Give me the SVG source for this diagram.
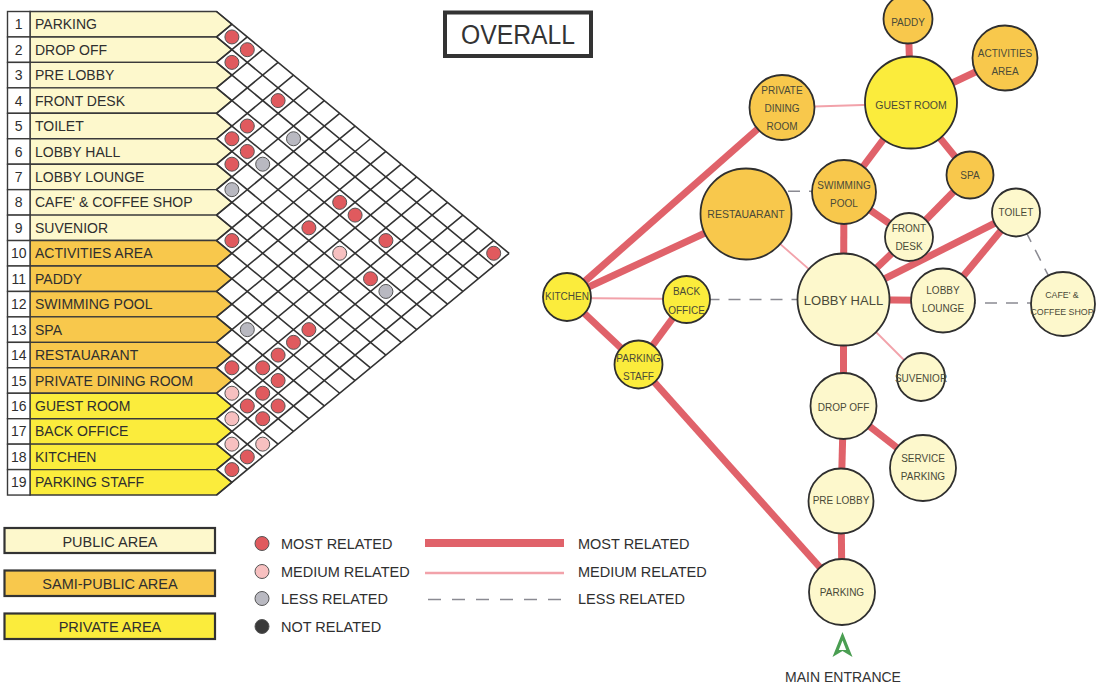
<svg xmlns="http://www.w3.org/2000/svg" width="1097" height="685" viewBox="0 0 1097 685">
<style>
.pub{fill:#fdf8cc}.semi{fill:#f8c84c}.priv{fill:#fbec3c}
.band{stroke:#3a3a3a;stroke-width:1.4}
.num{fill:#fff;stroke:#3a3a3a;stroke-width:1.4}
.lbl{font-family:"Liberation Sans",Arial,sans-serif;font-size:14px;fill:#2f2f2f}
.nn{font-family:"Liberation Sans",Arial,sans-serif;font-size:14px;fill:#2f2f2f;text-anchor:middle}
.grid{fill:none;stroke:#333;stroke-width:1.6}
.dot{stroke:#555;stroke-width:1}
.r{fill:#e05a5e}.p{fill:#f7c0c0}.g{fill:#b9b9c1}.k{fill:#3a3a3a}
.most{stroke:#e0626a;stroke-width:7;fill:none}
.med{stroke:#f2a2aa;stroke-width:1.8;fill:none}
.less{stroke:#8a8a92;stroke-width:1.5;stroke-dasharray:12 9;fill:none}
.node circle{stroke:#2f2f2f;stroke-width:1.8}
.nt{font-family:"Liberation Sans",Arial,sans-serif;font-size:10px;fill:#4a4a38;text-anchor:middle}
.leg{font-family:"Liberation Sans",Arial,sans-serif;font-size:14.5px;fill:#2f2f2f}
.legbox{stroke:#333;stroke-width:2.2}
</style>
<rect width="1097" height="685" fill="#fff"/>

<!-- Title -->
<g id="title">
<rect x="445" y="12.5" width="146" height="43.5" fill="#fff" stroke="#333" stroke-width="4"/>
<text x="518" y="43.5" text-anchor="middle" font-family="Liberation Sans, Arial, sans-serif" font-size="27" fill="#333" textLength="114" lengthAdjust="spacingAndGlyphs">OVERALL</text>
</g>

<!-- Matrix rows -->
<g id="matrix-rows">
<g id="row-1"><polygon class="band pub" points="30,11.5 216.5,11.5 231.9,24.2 216.5,36.95 30,36.95"/><rect class="num" x="7.5" y="11.5" width="22.5" height="25.45"/><text class="nn" x="18.75" y="29.2">1</text><text class="lbl" x="35" y="29.2">PARKING</text></g>
<g id="row-2"><polygon class="band pub" points="30,36.95 216.5,36.95 231.9,49.7 216.5,62.4 30,62.4"/><rect class="num" x="7.5" y="36.95" width="22.5" height="25.45"/><text class="nn" x="18.75" y="54.7">2</text><text class="lbl" x="35" y="54.7">DROP OFF</text></g>
<g id="row-3"><polygon class="band pub" points="30,62.4 216.5,62.4 231.9,75.1 216.5,87.85 30,87.85"/><rect class="num" x="7.5" y="62.4" width="22.5" height="25.45"/><text class="nn" x="18.75" y="80.1">3</text><text class="lbl" x="35" y="80.1">PRE LOBBY</text></g>
<g id="row-4"><polygon class="band pub" points="30,87.85 216.5,87.85 231.9,100.6 216.5,113.3 30,113.3"/><rect class="num" x="7.5" y="87.85" width="22.5" height="25.45"/><text class="nn" x="18.75" y="105.6">4</text><text class="lbl" x="35" y="105.6">FRONT DESK</text></g>
<g id="row-5"><polygon class="band pub" points="30,113.3 216.5,113.3 231.9,126 216.5,138.75 30,138.75"/><rect class="num" x="7.5" y="113.3" width="22.5" height="25.45"/><text class="nn" x="18.75" y="131">5</text><text class="lbl" x="35" y="131">TOILET</text></g>
<g id="row-6"><polygon class="band pub" points="30,138.75 216.5,138.75 231.9,151.5 216.5,164.2 30,164.2"/><rect class="num" x="7.5" y="138.75" width="22.5" height="25.45"/><text class="nn" x="18.75" y="156.5">6</text><text class="lbl" x="35" y="156.5">LOBBY HALL</text></g>
<g id="row-7"><polygon class="band pub" points="30,164.2 216.5,164.2 231.9,176.9 216.5,189.65 30,189.65"/><rect class="num" x="7.5" y="164.2" width="22.5" height="25.45"/><text class="nn" x="18.75" y="181.9">7</text><text class="lbl" x="35" y="181.9">LOBBY LOUNGE</text></g>
<g id="row-8"><polygon class="band pub" points="30,189.65 216.5,189.65 231.9,202.4 216.5,215.1 30,215.1"/><rect class="num" x="7.5" y="189.65" width="22.5" height="25.45"/><text class="nn" x="18.75" y="207.4">8</text><text class="lbl" x="35" y="207.4">CAFE' &amp; COFFEE SHOP</text></g>
<g id="row-9"><polygon class="band pub" points="30,215.1 216.5,215.1 231.9,227.8 216.5,240.55 30,240.55"/><rect class="num" x="7.5" y="215.1" width="22.5" height="25.45"/><text class="nn" x="18.75" y="232.8">9</text><text class="lbl" x="35" y="232.8">SUVENIOR</text></g>
<g id="row-10"><polygon class="band semi" points="30,240.55 216.5,240.55 231.9,253.3 216.5,266 30,266"/><rect class="num" x="7.5" y="240.55" width="22.5" height="25.45"/><text class="nn" x="18.75" y="258.3">10</text><text class="lbl" x="35" y="258.3">ACTIVITIES AREA</text></g>
<g id="row-11"><polygon class="band semi" points="30,266 216.5,266 231.9,278.7 216.5,291.45 30,291.45"/><rect class="num" x="7.5" y="266" width="22.5" height="25.45"/><text class="nn" x="18.75" y="283.7">11</text><text class="lbl" x="35" y="283.7">PADDY</text></g>
<g id="row-12"><polygon class="band semi" points="30,291.45 216.5,291.45 231.9,304.2 216.5,316.9 30,316.9"/><rect class="num" x="7.5" y="291.45" width="22.5" height="25.45"/><text class="nn" x="18.75" y="309.2">12</text><text class="lbl" x="35" y="309.2">SWIMMING POOL</text></g>
<g id="row-13"><polygon class="band semi" points="30,316.9 216.5,316.9 231.9,329.6 216.5,342.35 30,342.35"/><rect class="num" x="7.5" y="316.9" width="22.5" height="25.45"/><text class="nn" x="18.75" y="334.6">13</text><text class="lbl" x="35" y="334.6">SPA</text></g>
<g id="row-14"><polygon class="band semi" points="30,342.35 216.5,342.35 231.9,355.1 216.5,367.8 30,367.8"/><rect class="num" x="7.5" y="342.35" width="22.5" height="25.45"/><text class="nn" x="18.75" y="360.1">14</text><text class="lbl" x="35" y="360.1">RESTAUARANT</text></g>
<g id="row-15"><polygon class="band semi" points="30,367.8 216.5,367.8 231.9,380.5 216.5,393.25 30,393.25"/><rect class="num" x="7.5" y="367.8" width="22.5" height="25.45"/><text class="nn" x="18.75" y="385.5">15</text><text class="lbl" x="35" y="385.5">PRIVATE DINING ROOM</text></g>
<g id="row-16"><polygon class="band priv" points="30,393.25 216.5,393.25 231.9,406 216.5,418.7 30,418.7"/><rect class="num" x="7.5" y="393.25" width="22.5" height="25.45"/><text class="nn" x="18.75" y="411">16</text><text class="lbl" x="35" y="411">GUEST ROOM</text></g>
<g id="row-17"><polygon class="band priv" points="30,418.7 216.5,418.7 231.9,431.4 216.5,444.15 30,444.15"/><rect class="num" x="7.5" y="418.7" width="22.5" height="25.45"/><text class="nn" x="18.75" y="436.4">17</text><text class="lbl" x="35" y="436.4">BACK OFFICE</text></g>
<g id="row-18"><polygon class="band priv" points="30,444.15 216.5,444.15 231.9,456.9 216.5,469.6 30,469.6"/><rect class="num" x="7.5" y="444.15" width="22.5" height="25.45"/><text class="nn" x="18.75" y="461.9">18</text><text class="lbl" x="35" y="461.9">KITCHEN</text></g>
<g id="row-19"><polygon class="band priv" points="30,469.6 216.5,469.6 231.9,482.3 216.5,495.05 30,495.05"/><rect class="num" x="7.5" y="469.6" width="22.5" height="25.45"/><text class="nn" x="18.75" y="487.3">19</text><text class="lbl" x="35" y="487.3">PARKING STAFF</text></g>
</g>

<!-- Matrix grid -->
<g id="matrix-grid" transform="translate(216.5,11.5) scale(15.4,12.725)">
<path class="grid" vector-effect="non-scaling-stroke" d="M0,0L19,19M0,2L18,20M0,4L17,21M0,6L16,22M0,8L15,23M0,10L14,24M0,12L13,25M0,14L12,26M0,16L11,27M0,18L10,28M0,20L9,29M0,22L8,30M0,24L7,31M0,26L6,32M0,28L5,33M0,30L4,34M0,32L3,35M0,34L2,36M0,36L1,37"/>
<path class="grid" vector-effect="non-scaling-stroke" d="M0,2L1,1M0,4L2,2M0,6L3,3M0,8L4,4M0,10L5,5M0,12L6,6M0,14L7,7M0,16L8,8M0,18L9,9M0,20L10,10M0,22L11,11M0,24L12,12M0,26L13,13M0,28L14,14M0,30L15,15M0,32L16,16M0,34L17,17M0,36L18,18M0,38L19,19"/>
</g>

<!-- Matrix dots -->
<g id="matrix-dots">
<circle class="dot r" cx="231.9" cy="36.95" r="7"/>
<circle class="dot r" cx="247.3" cy="49.68" r="7"/>
<circle class="dot r" cx="231.9" cy="62.4" r="7"/>
<circle class="dot r" cx="278.1" cy="100.58" r="7"/>
<circle class="dot r" cx="247.3" cy="126.03" r="7"/>
<circle class="dot r" cx="231.9" cy="138.75" r="7"/>
<circle class="dot g" cx="293.5" cy="138.75" r="7"/>
<circle class="dot r" cx="247.3" cy="151.48" r="7"/>
<circle class="dot r" cx="231.9" cy="164.2" r="7"/>
<circle class="dot g" cx="262.7" cy="164.2" r="7"/>
<circle class="dot g" cx="231.9" cy="189.65" r="7"/>
<circle class="dot r" cx="339.7" cy="202.38" r="7"/>
<circle class="dot r" cx="355.1" cy="215.1" r="7"/>
<circle class="dot r" cx="308.9" cy="227.83" r="7"/>
<circle class="dot r" cx="231.9" cy="240.55" r="7"/>
<circle class="dot r" cx="385.9" cy="240.55" r="7"/>
<circle class="dot p" cx="339.7" cy="253.28" r="7"/>
<circle class="dot r" cx="493.7" cy="253.28" r="7"/>
<circle class="dot r" cx="370.5" cy="278.73" r="7"/>
<circle class="dot g" cx="385.9" cy="291.45" r="7"/>
<circle class="dot g" cx="247.3" cy="329.63" r="7"/>
<circle class="dot r" cx="308.9" cy="329.63" r="7"/>
<circle class="dot r" cx="293.5" cy="342.35" r="7"/>
<circle class="dot r" cx="278.1" cy="355.08" r="7"/>
<circle class="dot r" cx="231.9" cy="367.8" r="7"/>
<circle class="dot r" cx="262.7" cy="367.8" r="7"/>
<circle class="dot r" cx="278.1" cy="380.53" r="7"/>
<circle class="dot p" cx="231.9" cy="393.25" r="7"/>
<circle class="dot r" cx="262.7" cy="393.25" r="7"/>
<circle class="dot r" cx="247.3" cy="405.98" r="7"/>
<circle class="dot r" cx="278.1" cy="405.98" r="7"/>
<circle class="dot p" cx="231.9" cy="418.7" r="7"/>
<circle class="dot r" cx="262.7" cy="418.7" r="7"/>
<circle class="dot p" cx="231.9" cy="444.15" r="7"/>
<circle class="dot p" cx="262.7" cy="444.15" r="7"/>
<circle class="dot r" cx="247.3" cy="456.88" r="7"/>
<circle class="dot r" cx="231.9" cy="469.6" r="7"/>
</g>

<!-- Legend -->
<g id="legend-areas">
<rect class="legbox pub" x="4.5" y="528" width="210.5" height="25"/>
<text class="leg" x="110" y="546.5" text-anchor="middle">PUBLIC AREA</text>
<rect class="legbox semi" x="4.5" y="570.5" width="210.5" height="25.5"/>
<text class="leg" x="110" y="589" text-anchor="middle">SAMI-PUBLIC AREA</text>
<rect class="legbox priv" x="4.5" y="613.5" width="210.5" height="25.5"/>
<text class="leg" x="110" y="632" text-anchor="middle">PRIVATE AREA</text>
</g>
<g id="legend-dots">
<circle class="dot r" cx="262" cy="543.5" r="7"/>
<text class="leg" x="281" y="548.5">MOST RELATED</text>
<circle class="dot p" cx="262" cy="571.5" r="7"/>
<text class="leg" x="281" y="576.5">MEDIUM RELATED</text>
<circle class="dot g" cx="262" cy="598.5" r="7"/>
<text class="leg" x="281" y="603.5">LESS RELATED</text>
<circle class="dot k" cx="262" cy="626.5" r="7"/>
<text class="leg" x="281" y="631.5">NOT RELATED</text>
</g>
<g id="legend-lines">
<line class="most" x1="425" y1="543" x2="564" y2="543" style="stroke-width:8"/>
<text class="leg" x="578" y="548.5">MOST RELATED</text>
<line class="med" x1="425" y1="573" x2="564" y2="573" style="stroke-width:2.5"/>
<text class="leg" x="578" y="576.5">MEDIUM RELATED</text>
<line class="less" x1="428" y1="599.5" x2="564" y2="599.5" style="stroke-dasharray:13 11"/>
<text class="leg" x="578" y="603.5">LESS RELATED</text>
</g>

<!-- Connectors -->
<g id="connectors">
<line class="most" x1="567" y1="297" x2="782" y2="107.5"/>
<line class="most" x1="567" y1="297" x2="746" y2="214"/>
<line class="most" x1="567" y1="297" x2="638.5" y2="364.5"/>
<line class="most" x1="638.5" y1="364.5" x2="686.5" y2="299.5"/>
<line class="most" x1="638.5" y1="364.5" x2="842" y2="592"/>
<line class="most" x1="908" y1="19" x2="911" y2="102.5"/>
<line class="most" x1="911" y1="102.5" x2="1005" y2="58"/>
<line class="most" x1="911" y1="102.5" x2="844" y2="192"/>
<line class="most" x1="911" y1="102.5" x2="970" y2="175"/>
<line class="most" x1="970" y1="175" x2="909" y2="237"/>
<line class="most" x1="844" y1="192" x2="909" y2="237"/>
<line class="most" x1="844" y1="192" x2="843.5" y2="299.5"/>
<line class="most" x1="909" y1="237" x2="843.5" y2="299.5"/>
<line class="most" x1="1016" y1="212.5" x2="843.5" y2="299.5"/>
<line class="most" x1="1016" y1="212.5" x2="943" y2="300.5"/>
<line class="most" x1="843.5" y1="299.5" x2="943" y2="300.5"/>
<line class="most" x1="843.5" y1="299.5" x2="843.5" y2="406"/>
<line class="most" x1="843.5" y1="406" x2="841" y2="501"/>
<line class="most" x1="843.5" y1="406" x2="923" y2="468"/>
<line class="most" x1="841" y1="501" x2="842" y2="592"/>
<line class="med" x1="782" y1="107.5" x2="911" y2="103.5"/>
<line class="med" x1="746" y1="214" x2="843.5" y2="299.5"/>
<line class="med" x1="567" y1="298" x2="686.5" y2="299"/>
<line class="med" x1="843.5" y1="299.5" x2="921" y2="377"/>
<line class="less" x1="746" y1="191" x2="844" y2="191.5"/>
<line class="less" x1="686.5" y1="299.5" x2="843.5" y2="299.5"/>
<line class="less" x1="943" y1="303" x2="1063" y2="303"/>
<line class="less" x1="1016" y1="212.5" x2="1063" y2="304"/>
</g>

<!-- Bubble nodes -->
<g id="paddy" class="node"><circle class="semi" cx="908" cy="19" r="24.5"/><text class="nt" x="908" y="25.5">PADDY</text></g>
<g id="activities-area" class="node"><circle class="semi" cx="1005" cy="58" r="32.5"/><text class="nt" x="1005" y="57">ACTIVITIES</text><text class="nt" x="1005" y="75">AREA</text></g>
<g id="guest-room" class="node"><circle class="priv" cx="911" cy="102.5" r="46"/><text class="nt" x="911" y="108.5" style="font-size:10.5px">GUEST ROOM</text></g>
<g id="private-dining-room" class="node"><circle class="semi" cx="782" cy="107.5" r="32.5"/><text class="nt" x="782" y="94">PRIVATE</text><text class="nt" x="782" y="112.3">DINING</text><text class="nt" x="782" y="130">ROOM</text></g>
<g id="spa" class="node"><circle class="semi" cx="970" cy="175" r="23.5"/><text class="nt" x="970" y="178.5">SPA</text></g>
<g id="swimming-pool" class="node"><circle class="semi" cx="844" cy="192" r="32"/><text class="nt" x="844" y="188.5">SWIMMING</text><text class="nt" x="844" y="206.5">POOL</text></g>
<g id="restaurant" class="node"><circle class="semi" cx="746" cy="214" r="45.5"/><text class="nt" x="746" y="217.5" style="font-size:10.5px">RESTAUARANT</text></g>
<g id="front-desk" class="node"><circle class="pub" cx="909" cy="237" r="24"/><text class="nt" x="909" y="231.8">FRONT</text><text class="nt" x="909" y="250.2">DESK</text></g>
<g id="toilet" class="node"><circle class="pub" cx="1016" cy="212.5" r="24"/><text class="nt" x="1016" y="215.8">TOILET</text></g>
<g id="kitchen" class="node"><circle class="priv" cx="567" cy="297" r="24"/><text class="nt" x="567" y="300.3">KITCHEN</text></g>
<g id="back-office" class="node"><circle class="priv" cx="686.5" cy="299.5" r="23.5"/><text class="nt" x="686.5" y="295.2">BACK</text><text class="nt" x="686.5" y="313.5">OFFICE</text></g>
<g id="lobby-hall" class="node"><circle class="pub" cx="843.5" cy="299.5" r="46"/><text class="nt" x="843.5" y="304.5" style="font-size:13px">LOBBY HALL</text></g>
<g id="lobby-lounge" class="node"><circle class="pub" cx="943" cy="300.5" r="32"/><text class="nt" x="943" y="293.5">LOBBY</text><text class="nt" x="943" y="311.8">LOUNGE</text></g>
<g id="cafe-coffee-shop" class="node"><circle class="pub" cx="1063" cy="304" r="32"/><text class="nt" x="1062" y="298" style="font-size:8.8px">CAFE' &amp;</text><text class="nt" x="1062" y="315" style="font-size:8.8px">COFFEE SHOP</text></g>
<g id="parking-staff" class="node"><circle class="priv" cx="638.5" cy="364.5" r="24"/><text class="nt" x="638.5" y="361.8">PARKING</text><text class="nt" x="638.5" y="380.2">STAFF</text></g>
<g id="suvenior" class="node"><circle class="pub" cx="921" cy="377" r="24"/><text class="nt" x="921" y="381.8">SUVENIOR</text></g>
<g id="drop-off" class="node"><circle class="pub" cx="843.5" cy="406" r="33"/><text class="nt" x="843.5" y="410.8">DROP OFF</text></g>
<g id="service-parking" class="node"><circle class="pub" cx="923" cy="468" r="33"/><text class="nt" x="923" y="461.8">SERVICE</text><text class="nt" x="923" y="480.2">PARKING</text></g>
<g id="pre-lobby" class="node"><circle class="pub" cx="841" cy="501" r="32.5"/><text class="nt" x="841" y="504.2">PRE LOBBY</text></g>
<g id="parking" class="node"><circle class="pub" cx="842" cy="592" r="33"/><text class="nt" x="842" y="595.5">PARKING</text></g>

<!-- Main entrance -->
<g id="main-entrance">
<path d="M842.5,632 L852.5,657 L842.5,651 L832.5,657 Z M842.5,640.5 L838.8,650 L846.2,650 Z" fill="#4a9e52" fill-rule="evenodd"/>
<text x="843" y="682" text-anchor="middle" font-family="Liberation Sans, Arial, sans-serif" font-size="14" fill="#333">MAIN ENTRANCE</text>
</g>
</svg>
